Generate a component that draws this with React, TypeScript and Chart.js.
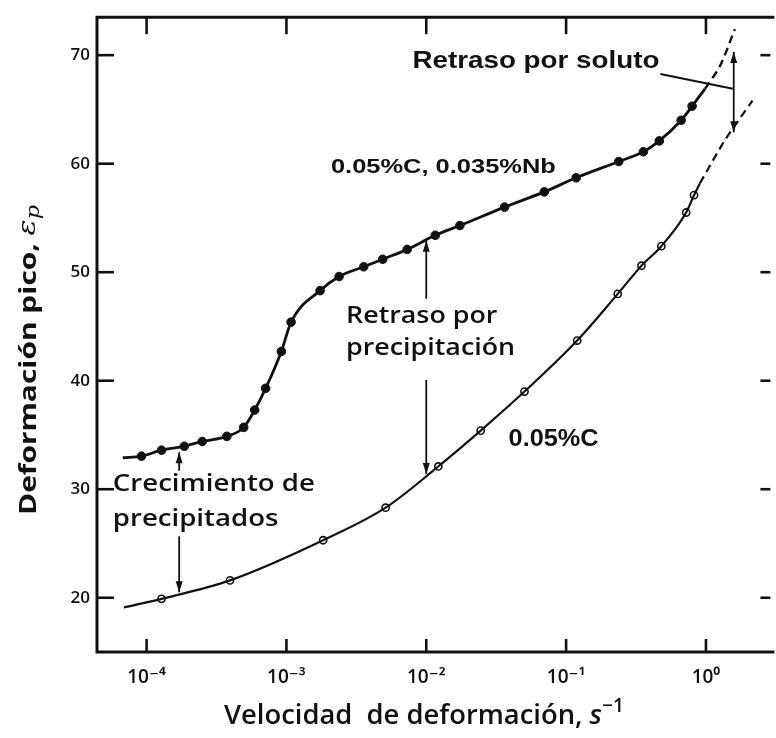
import React, { useEffect, useRef } from 'react';
import { Chart, registerables } from 'chart.js';

Chart.register(...registerables);

// ---- axes ----
const xTickValues = [1e-4, 1e-3, 1e-2, 1e-1, 1];
const xTickLabels = ['10⁻⁴', '10⁻³', '10⁻²', '10⁻¹', '10⁰'];
const yTickValues = [20, 30, 40, 50, 60, 70];
const xMin = 4.42e-5;
const xMax = 2.89;
const yMin = 15;
const yMax = 73.5;

// ---- 0.05%C, 0.035%Nb (filled circles) ----
const nbRate = [9.2e-5, 1.28e-4, 1.86e-4, 2.5e-4, 3.75e-4, 4.95e-4, 5.93e-4, 7.1e-4, 9.2e-4, 1.08e-3, 1.74e-3, 2.38e-3, 3.57e-3, 4.88e-3, 7.3e-3, 0.0116, 0.0174, 0.0363, 0.0698, 0.118, 0.238, 0.357, 0.464, 0.665, 0.796];
const nbStrain = [33.05, 33.6, 33.96, 34.4, 34.87, 35.7, 37.3, 39.3, 42.7, 45.4, 48.3, 49.6, 50.5, 51.2, 52.1, 53.4, 54.3, 56.0, 57.4, 58.7, 60.2, 61.1, 62.1, 64.0, 65.3];
const nbLineStart = [6.76e-5, 32.9];
const nbLineEnd = [0.984, 66.9];
const nbDashRate = [0.984, 1.26, 1.61];
const nbDashStrain = [66.9, 69.0, 72.4];

// ---- 0.05%C (open circles) ----
const cRate = [1.28e-4, 3.95e-4, 1.83e-3, 5.12e-3, 0.0122, 0.0245, 0.0504, 0.12, 0.234, 0.346, 0.48, 0.722, 0.822];
const cStrain = [19.9, 21.6, 25.3, 28.3, 32.1, 35.4, 39.0, 43.7, 48.0, 50.6, 52.4, 55.5, 57.1];
const cLineStart = [6.87e-5, 19.1];
const cLineEnd = [0.906, 58.2];
const cDashRate = [0.906, 1.365, 2.15];
const cDashStrain = [58.2, 62.15, 65.8];

const INK = '#111';

const toPts = (xs: number[], ys: number[]) => xs.map((x, i) => ({ x, y: ys[i] }));

type Seg = { t: string; f: string; dy?: number };

function segWidth(ctx: CanvasRenderingContext2D, segs: Seg[]) {
  let w = 0;
  for (const s of segs) {
    ctx.font = s.f;
    w += ctx.measureText(s.t).width;
  }
  return w;
}

function drawSegs(ctx: CanvasRenderingContext2D, segs: Seg[], x: number, y: number, align: 'left' | 'center', sx: number) {
  const w = segWidth(ctx, segs);
  ctx.save();
  ctx.translate(x, y);
  ctx.scale(sx, 1);
  ctx.textBaseline = 'middle';
  ctx.textAlign = 'left';
  let cx = align === 'center' ? -w / 2 : 0;
  for (const s of segs) {
    ctx.font = s.f;
    ctx.fillText(s.t, cx, s.dy || 0);
    cx += ctx.measureText(s.t).width;
  }
  ctx.restore();
}

function arrowHead(ctx: CanvasRenderingContext2D, x1: number, y1: number, x2: number, y2: number, len = 11, half = 3.5) {
  const a = Math.atan2(y2 - y1, x2 - x1);
  ctx.beginPath();
  ctx.moveTo(x2, y2);
  ctx.lineTo(x2 - len * Math.cos(a) + half * Math.sin(a), y2 - len * Math.sin(a) - half * Math.cos(a));
  ctx.lineTo(x2 - len * Math.cos(a) - half * Math.sin(a), y2 - len * Math.sin(a) + half * Math.cos(a));
  ctx.closePath();
  ctx.fill();
}

const decorPlugin = {
  id: 'decor',
  afterDraw(chart: any) {
    const { ctx, chartArea: a } = chart;
    const xs = chart.scales.x;
    const ys = chart.scales.y;
    const X = (v: number) => xs.getPixelForValue(v);
    const Y = (v: number) => ys.getPixelForValue(v);
    ctx.save();
    ctx.strokeStyle = INK;
    ctx.fillStyle = INK;

    // frame (right side is cut off in the original)
    ctx.lineWidth = 3;
    ctx.lineJoin = 'miter';
    ctx.beginPath();
    ctx.moveTo(a.right + 4, a.top);
    ctx.lineTo(a.left, a.top);
    ctx.lineTo(a.left, a.bottom);
    ctx.lineTo(a.right + 4, a.bottom);
    ctx.stroke();

    // inward ticks
    ctx.lineWidth = 2.6;
    const seg = (x1: number, y1: number, x2: number, y2: number) => {
      ctx.beginPath();
      ctx.moveTo(x1, y1);
      ctx.lineTo(x2, y2);
      ctx.stroke();
    };
    xTickValues.forEach((v) => {
      const px = X(v);
      seg(px, a.bottom, px, a.bottom - 13);
      seg(px, a.top, px, a.top + 17);
    });
    yTickValues.forEach((v) => {
      const py = Y(v);
      seg(a.left, py, a.left + 17, py);
      seg(a.right, py, a.right - 10, py);
    });

    // annotation arrows
    ctx.lineWidth = 1.8;
    const arrow = (r1: number, s1: number, r2: number, s2: number, both = false) => {
      const x1 = X(r1), y1 = Y(s1), x2 = X(r2), y2 = Y(s2);
      seg(x1, y1, x2, y2);
      arrowHead(ctx, x1, y1, x2, y2);
      if (both) arrowHead(ctx, x2, y2, x1, y1);
    };
    arrow(0.01, 47.55, 0.01, 52.9);
    arrow(0.01, 40.07, 0.01, 31.4);
    arrow(1.71e-4, 31.7, 1.71e-4, 33.4);
    arrow(1.71e-4, 25.66, 1.71e-4, 20.5);
    arrow(1.58, 62.9, 1.58, 70.3, true);
    ctx.lineWidth = 2;
    seg(X(0.472), Y(68.27), X(1.556), Y(66.9));

    // annotation texts
    const bold = (px: number) => `bold ${px}px "Liberation Sans", Arial, sans-serif`;
    const semi = (px: number) => `600 ${px}px "Open Sans", sans-serif`;
    const note = (lines: string[], r: number, s: number, font: string, target: number, gap = 0) => {
      let widest = 0;
      lines.forEach((l) => { widest = Math.max(widest, segWidth(ctx, [{ t: l, f: font }])); });
      const sx = target / widest;
      lines.forEach((l, i) => drawSegs(ctx, [{ t: l, f: font }], X(r), Y(s) + i * gap, 'left', sx));
    };
    note(['Retraso por soluto'], 7.96e-3, 69.45, bold(24), 247);
    note(['0.05%C, 0.035%Nb'], 2.08e-3, 59.7, bold(21), 225);
    note(['Retraso por', 'precipitación'], 2.67e-3, 45.9, semi(23), 169, 32);
    note(['0.05%C'], 0.0388, 34.6, bold(23), 90);
    note(['Crecimiento de', 'precipitados'], 5.74e-5, 30.4, semi(23), 202, 35);

    // axis titles
    const xt: Seg[] = [
      { t: 'Velocidad  de deformación, ', f: '600 27px "Open Sans", sans-serif' },
      { t: 's', f: 'italic 600 27px "Open Sans", sans-serif' },
      { t: '−1', f: '600 19px "Open Sans", sans-serif', dy: -9 },
    ];
    drawSegs(ctx, xt, 424, 716, 'center', 400 / segWidth(ctx, xt));

    const yt: Seg[] = [
      { t: 'Deformación pico, ', f: 'bold 24px "Open Sans", sans-serif' },
      { t: 'ε', f: 'italic 24px "DejaVu Serif", serif' },
      { t: 'p', f: 'italic 18px "DejaVu Serif", serif', dy: 5 },
    ];
    ctx.save();
    ctx.translate(29, 360);
    ctx.rotate(-Math.PI / 2);
    drawSegs(ctx, yt, 0, 0, 'center', 310 / segWidth(ctx, yt));
    ctx.restore();

    ctx.restore();
  },
};

export default function App() {
  const ref = useRef<HTMLCanvasElement | null>(null);

  useEffect(() => {
    if (!ref.current) return;
    const nbLine = toPts([nbLineStart[0], ...nbRate, nbLineEnd[0]], [nbLineStart[1], ...nbStrain, nbLineEnd[1]]);
    const cLine = toPts([cLineStart[0], ...cRate, cLineEnd[0]], [cLineStart[1], ...cStrain, cLineEnd[1]]);

    const chart = new Chart(ref.current, {
      type: 'scatter',
      data: {
        datasets: [
          { label: 'nb-line', data: nbLine, showLine: true, borderColor: INK, borderWidth: 2.8, pointRadius: 0, cubicInterpolationMode: 'monotone' } as any,
          { label: 'nb-dash', data: toPts(nbDashRate, nbDashStrain), showLine: true, borderColor: INK, borderWidth: 2.4, borderDash: [8, 5], pointRadius: 0, tension: 0.3 } as any,
          { label: 'c-line', data: cLine, showLine: true, borderColor: INK, borderWidth: 2.2, pointRadius: 0, cubicInterpolationMode: 'monotone' } as any,
          { label: 'c-dash', data: toPts(cDashRate, cDashStrain), showLine: true, borderColor: INK, borderWidth: 2.2, borderDash: [8, 5], pointRadius: 0, tension: 0.3 } as any,
          { label: '0.05%C, 0.035%Nb', data: toPts(nbRate, nbStrain), showLine: false, pointRadius: 4.3, pointBackgroundColor: INK, pointBorderColor: INK, pointBorderWidth: 1 },
          { label: '0.05%C', data: toPts(cRate, cStrain), showLine: false, pointRadius: 3.6, pointBackgroundColor: '#fff', pointBorderColor: INK, pointBorderWidth: 1.6 },
        ],
      },
      options: {
        responsive: false,
        animation: false,
        events: [],
        layout: { padding: { left: 0, right: 0, top: 10, bottom: 0 } },
        plugins: { legend: { display: false }, tooltip: { enabled: false } },
        scales: {
          x: {
            type: 'logarithmic',
            min: xMin,
            max: xMax,
            grid: { display: false, drawTicks: false },
            border: { display: false },
            afterBuildTicks: (s: any) => { s.ticks = xTickValues.map((v) => ({ value: v })); },
            afterFit: (s: any) => { s.height = 86; },
            ticks: {
              autoSkip: false,
              maxRotation: 0,
              padding: 14,
              color: INK,
              font: { family: '"Open Sans", "DejaVu Sans", sans-serif', size: 19, weight: '600' },
              callback: (_v: any, i: number) => xTickLabels[i],
            },
          },
          y: {
            min: yMin,
            max: yMax,
            grid: { display: false, drawTicks: false },
            border: { display: false },
            afterBuildTicks: (s: any) => { s.ticks = yTickValues.map((v) => ({ value: v })); },
            afterFit: (s: any) => { s.width = 97; },
            ticks: {
              padding: 7,
              color: INK,
              font: { family: '"Open Sans", sans-serif', size: 17, weight: '600' },
              callback: (v: any) => String(v),
            },
          },
        },
      },
      plugins: [decorPlugin],
    } as any);
    return () => chart.destroy();
  }, []);

  return (
    <div style={{ position: 'fixed', left: 0, top: 0, width: 776, height: 738, background: '#fff' }}>
      <canvas ref={ref} width={776} height={738} style={{ display: 'block', width: 776, height: 738 }} />
    </div>
  );
}
